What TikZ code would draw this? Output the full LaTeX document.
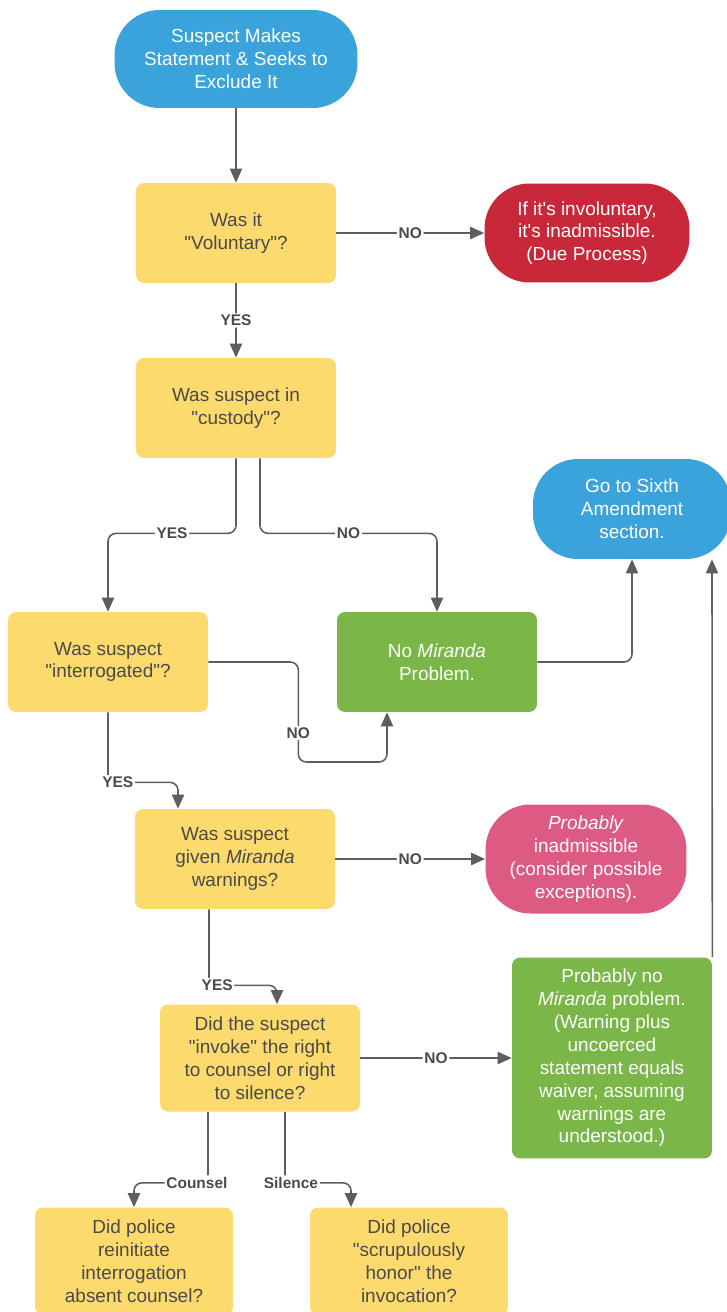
\documentclass[tikz,border=0pt]{standalone}
\usepackage{fontspec}
\setmainfont{Liberation Sans}[Ligatures=TeXOff]
\usetikzlibrary{arrows.meta}
\definecolor{lblue}{HTML}{3BA3DC}
\definecolor{lyellow}{HTML}{FDDA6E}
\definecolor{lred}{HTML}{C8283A}
\definecolor{lgreen}{HTML}{7AB648}
\definecolor{lpink}{HTML}{DD5A83}
\definecolor{ltext}{HTML}{4A4A4A}
\definecolor{lline}{HTML}{5E5E5E}
\begin{document}
\begin{tikzpicture}
        [x=0.02cm, y=-0.02cm,
        box/.style={rectangle, rounded corners=0.16cm, align=center, inner sep=0pt,
            font=\fontsize{10.8}{13}\selectfont},
        question/.style={box, fill=lyellow, text=ltext, minimum width=4cm, minimum height=2cm},
        ending/.style={box, fill=lgreen, text=white, minimum width=4cm, minimum height=2cm},
        terminal/.style={box, rounded corners=0.9cm, text=white},
        edge/.style={draw=lline, line width=0.9pt, rounded corners=0.16cm,
            -{Triangle[length=8pt, width=7pt]}},
        lbl/.style={fill=white, text=ltext, inner sep=1pt, font=\fontsize{8.8}{10}\selectfont\bfseries}]

        \clip (0,0) rectangle (727,1312);
        \fill[white] (0,0) rectangle (727,1312);

        \node[terminal, fill=lblue, minimum width=4.86cm, minimum height=1.96cm] (start) at (236,59)
            {Suspect Makes\\Statement \& Seeks to\\Exclude It};
        \node[question] (vol) at (236,233) {Was it\\"Voluntary"?};
        \node[terminal, fill=lred, minimum width=4.1cm, minimum height=1.98cm] (invol) at (587,233)
            {If it's involuntary,\\it's inadmissible.\\(Due Process)};
        \node[question] (cust) at (236,408) {Was suspect in\\"custody"?};
        \node[question] (interr) at (108,662) {Was suspect\\"interrogated"?};
        \node[ending] (nomir) at (437,662) {No \textit{Miranda}\\Problem.};
        \node[terminal, fill=lblue, minimum width=3.96cm, minimum height=2cm] (sixth) at (632,509)
            {Go to Sixth\\Amendment\\section.};
        \node[question] (given) at (235,859) {Was suspect\\given \textit{Miranda}\\warnings?};
        \node[terminal, fill=lpink, minimum width=4.02cm, minimum height=2.18cm] (prob) at (586,859)
            {\textit{Probably}\\inadmissible\\(consider possible\\exceptions).};
        \node[question, minimum height=2.14cm] (invoke) at (260,1058)
            {Did the suspect\\"invoke" the right\\to counsel or right\\to silence?};
        \node[ending, minimum height=4.02cm] (pnm) at (612,1058)
            {Probably no\\\textit{Miranda} problem.\\(Warning plus\\uncoerced\\statement equals\\waiver, assuming\\warnings are\\understood.)};
        \node[question, minimum width=3.96cm, minimum height=2.14cm] (counsel) at (134,1261)
            {Did police\\reinitiate\\interrogation\\absent counsel?};
        \node[question, minimum width=3.96cm, minimum height=2.14cm] (silence) at (409,1261)
            {Did police\\"scrupulously\\honor" the\\invocation?};

        \draw[edge] (start) -- (vol);
        \draw[edge] (vol) -- node[lbl] {NO} (invol);
        \draw[edge] (vol) -- node[lbl] {YES} (cust);
        \draw[edge] (cust.south) -- ++(0,75) -| node[lbl, pos=0.25] {YES} (interr.north);
        \draw[edge] ([xshift=0.48cm]cust.south) -- ++(0,75) -| node[lbl, pos=0.25] {NO} (nomir.north);
        \draw[edge] (interr.east) -- ++(90,0) -- node[lbl, pos=0.71] {NO} ++(0,100) -| ([xshift=-1cm]nomir.south);
        \draw[edge] (nomir.east) -| (sixth.south);
        \draw[edge] (interr.south) -- ++(0,70) -| node[lbl, pos=0.07] {YES} ([xshift=-1.14cm]given.north);
        \draw[edge] (given) -- node[lbl] {NO} (prob);
        \draw[edge] ([xshift=-0.52cm]given.south) -- ++(0,76) -| node[lbl, pos=0.06] {YES} ([xshift=0.34cm]invoke.north);
        \draw[edge] (invoke) -- node[lbl] {NO} (pnm);
        \draw[edge] (pnm.north east) -- ([xshift=1.6cm]sixth.south);
        \draw[edge] ([xshift=-1.04cm]invoke.south) -- ++(0,71) -| node[lbl, pos=0.075] {Counsel} (counsel.north);
        \draw[edge] ([xshift=0.5cm]invoke.south) -- ++(0,71) -| node[lbl, pos=0.045] {Silence} ([xshift=-1.16cm]silence.north);

    \end{tikzpicture}
\end{document}
